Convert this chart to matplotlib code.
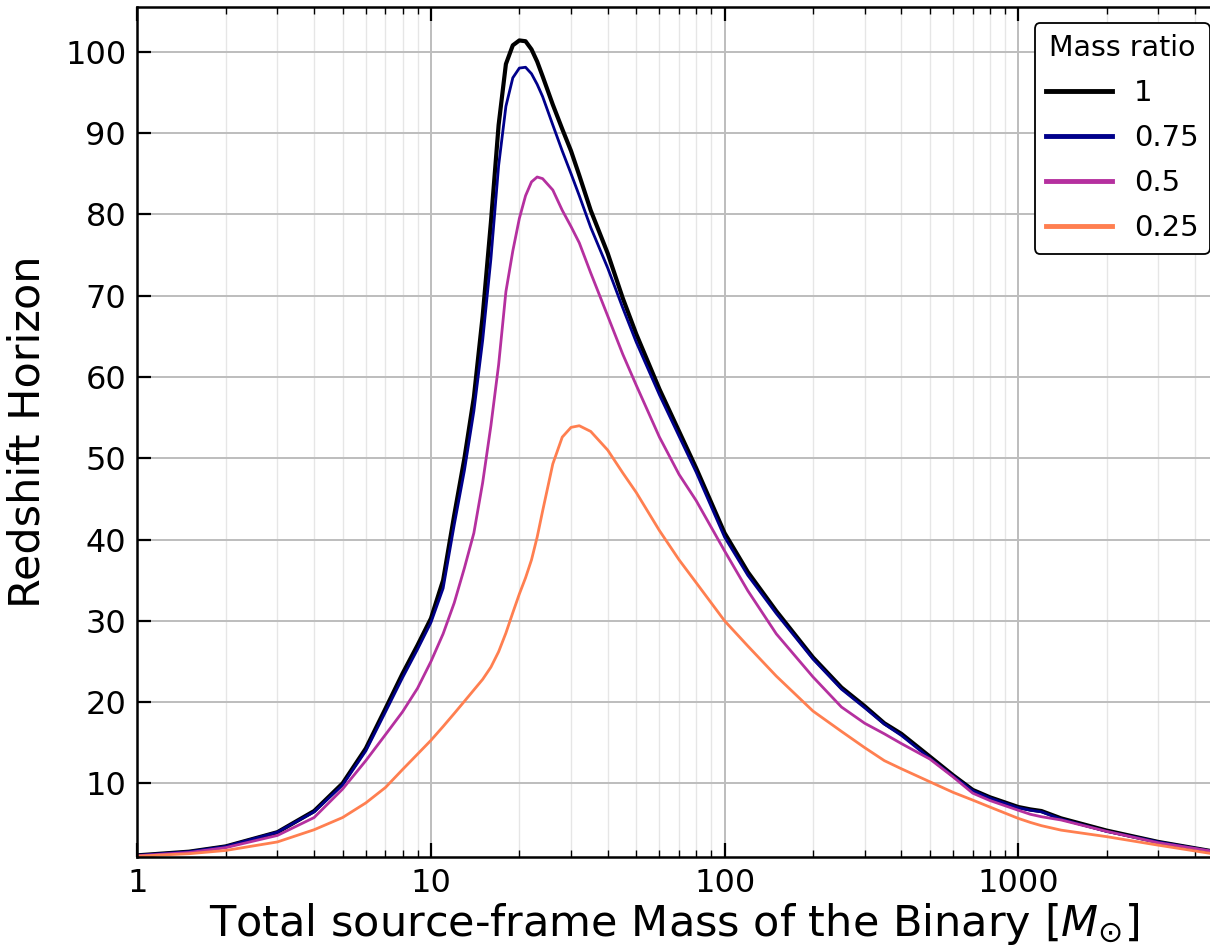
import numpy as np
import matplotlib
matplotlib.use('Agg')
import matplotlib.pyplot as plt
from matplotlib.ticker import LogLocator, NullFormatter, FixedLocator

# total source-frame mass of the binary (solar masses)
mass = [1, 1.5, 2, 3, 4, 5, 6, 7, 8, 9,
        10, 11, 12, 13, 14, 15, 16, 17, 18, 19,
        20, 21, 22, 23, 24, 26, 28, 30, 32, 35,
        40, 45, 50, 60, 70, 80, 100, 120, 150, 200,
        250, 300, 350, 400, 500, 600, 700, 800, 1000, 1100,
        1200, 1400, 2000, 3000, 4500]

# redshift horizon for each mass ratio
z_q100 = [1.15, 1.6, 2.25, 4.0, 6.6, 10.0, 14.3, 19.2, 23.5, 27.0,
          30.3, 35.0, 43.0, 50.0, 57.5, 67.5, 79.0, 91.0, 98.5, 100.8,
          101.4, 101.3, 100.3, 98.8, 97.0, 93.5, 90.5, 87.8, 84.8, 80.5,
          75.2, 69.7, 65.3, 58.5, 53.3, 48.8, 40.8, 36.0, 31.2, 25.5,
          21.8, 19.5, 17.4, 16.1, 13.3, 11.0, 9.2, 8.3, 7.1, 6.8,
          6.6, 5.7, 4.2, 2.8, 1.7]
z_q075 = [1.15, 1.6, 2.25, 4.0, 6.5, 9.8, 14.0, 18.8, 23.0, 26.5,
          29.8, 34.0, 41.8, 48.5, 55.8, 64.5, 74.5, 86.0, 93.3, 96.8,
          98.0, 98.1, 97.3, 96.0, 94.5, 91.0, 87.8, 85.0, 82.3, 78.4,
          73.4, 68.5, 64.3, 57.8, 52.7, 48.3, 40.3, 35.6, 30.9, 25.3,
          21.6, 19.3, 17.3, 15.9, 13.1, 10.9, 9.1, 8.2, 7.0, 6.7,
          6.5, 5.6, 4.1, 2.8, 1.7]
z_q050 = [1.1, 1.5, 2.1, 3.6, 5.8, 9.3, 12.8, 16.0, 18.8, 21.7,
          25.0, 28.4, 32.2, 36.5, 40.8, 47.0, 54.0, 61.5, 70.5, 75.5,
          79.5, 82.3, 84.0, 84.6, 84.4, 83.0, 80.5, 78.5, 76.5, 72.8,
          67.5, 62.8, 59.0, 52.6, 48.0, 44.8, 38.6, 33.7, 28.4, 23.1,
          19.4, 17.4, 16.1, 14.9, 13.0, 10.8, 8.8, 7.9, 6.7, 6.2,
          5.9, 5.5, 4.1, 2.7, 1.7]
z_q025 = [1.05, 1.35, 1.75, 2.8, 4.3, 5.8, 7.6, 9.5, 11.7, 13.6,
          15.3, 17.0, 18.6, 20.1, 21.5, 22.8, 24.3, 26.2, 28.5, 31.0,
          33.3, 35.3, 37.5, 40.3, 43.5, 49.3, 52.6, 53.8, 54.0, 53.3,
          51.0, 48.2, 45.8, 41.1, 37.5, 34.7, 30.0, 26.9, 23.2, 18.9,
          16.4, 14.4, 12.8, 11.8, 10.2, 8.9, 7.95, 7.1, 5.7, 5.2,
          4.8, 4.25, 3.45, 2.4, 1.4]

q_labels = ['1', '0.75', '0.5', '0.25']
q_colors = ['black', '#00008b', '#b5309f', '#ff7f50']
q_widths = [3.0, 2.0, 2.0, 2.0]

fig = plt.figure(figsize=(12.1, 9.47), dpi=100)
ax = fig.add_axes([0.1135, 0.0955, 0.8865, 0.897])

for z, lab, c, lw in zip([z_q100, z_q075, z_q050, z_q025], q_labels, q_colors, q_widths):
    ax.plot(mass, z, color=c, lw=lw, label=lab)

ax.set_xscale('log')
ax.set_xlim(1, 4500)
ax.set_ylim(1, 105.5)
ax.xaxis.set_major_locator(FixedLocator([1, 10, 100, 1000]))
ax.set_xticklabels(['1', '10', '100', '1000'])
ax.xaxis.set_minor_locator(LogLocator(base=10, subs=np.arange(2, 10)))
ax.xaxis.set_minor_formatter(NullFormatter())
ax.set_yticks(np.arange(10, 101, 10))

ax.tick_params(which='major', direction='in', length=10, width=1.6,
               labelsize=23, top=True, right=False, pad=8)
ax.tick_params(which='minor', direction='in', length=5, width=1.0, top=True, right=False)
ax.tick_params(axis='y', which='minor', left=False)
for sp in ax.spines.values():
    sp.set_linewidth(1.8)
ax.spines['right'].set_visible(False)

ax.grid(which='major', color='#bdbdbd', lw=1.4)
ax.grid(which='minor', axis='x', color='#e6e6e6', lw=1.0)
ax.set_axisbelow(True)

ax.set_xlabel(r'Total source-frame Mass of the Binary [$M_{\odot}$]', fontsize=31, labelpad=2)
ax.set_ylabel('Redshift Horizon', fontsize=31, labelpad=12)

leg = ax.legend(title='Mass ratio', loc='upper right', fontsize=21, title_fontsize=20.5,
                frameon=True, fancybox=True, edgecolor='black', framealpha=1,
                handlelength=2.25, handletextpad=0.75, labelspacing=0.58,
                borderaxespad=0, borderpad=0.4,
                bbox_to_anchor=(1.0, 0.976), bbox_transform=fig.transFigure)
leg.get_frame().set_linewidth(1.3)
for h in leg.get_lines():
    h.set_linewidth(3.5)

fig.savefig('out.png', dpi=100)
